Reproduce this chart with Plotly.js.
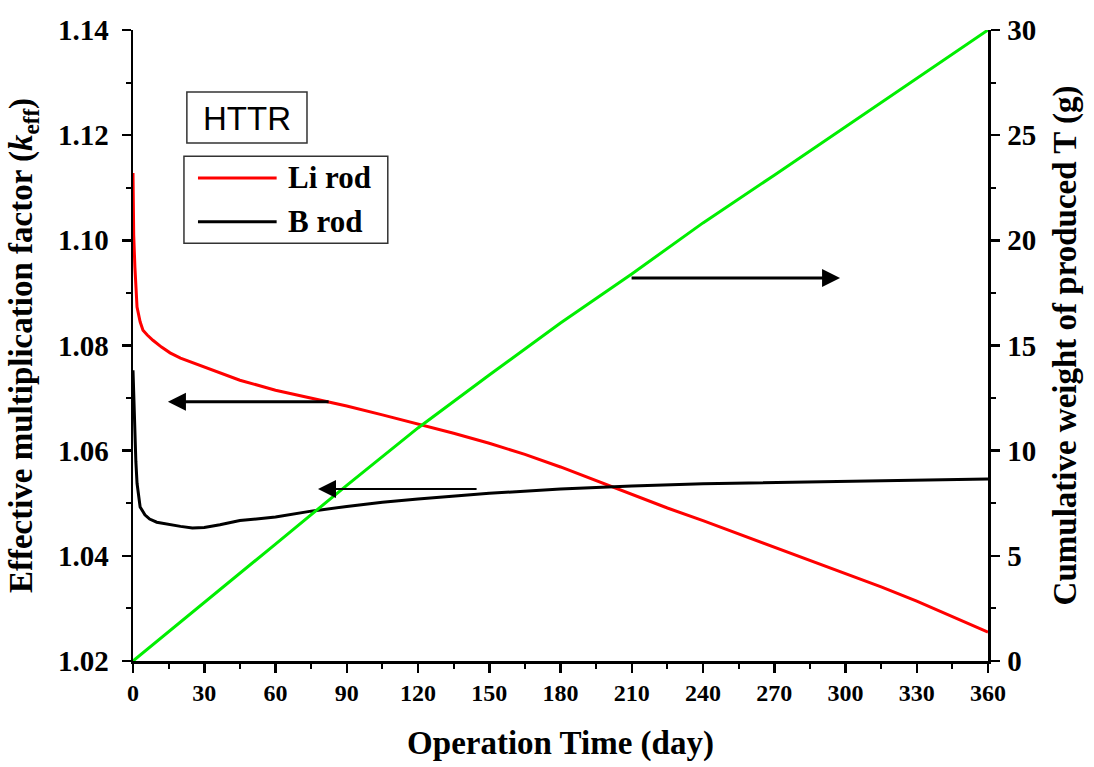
<!DOCTYPE html>
<html>
<head>
<meta charset="utf-8">
<script src="https://cdn.plot.ly/plotly-3.0.1.min.js"></script>
<style>
  html, body { margin: 0; padding: 0; background: #fff; }
  #chart { width: 1094px; height: 767px; }
</style>
</head>
<body>
<div id="chart"></div>
<script>
// Operation time (day) and k_eff for the Li rod case
const liDays = [0, 0.3, 0.8, 1.7, 3, 4.2, 6, 8.4, 12, 15.6, 20, 25.3, 30, 36.6, 45, 60, 75, 82, 90, 105, 120, 135, 150, 165, 180, 195, 210, 225, 240, 255, 270, 285, 300, 315, 330, 345, 360];
const liKeff = [1.1128, 1.1010, 1.0949, 1.0873, 1.0845, 1.0829, 1.0820, 1.0810, 1.0797, 1.0786, 1.0776, 1.0767, 1.0759, 1.0748, 1.0734, 1.0715, 1.0700, 1.0693, 1.0685, 1.0668, 1.0651, 1.0633, 1.0614, 1.0593, 1.0569, 1.0543, 1.0516, 1.0491, 1.0467, 1.0442, 1.0417, 1.0391, 1.0366, 1.0341, 1.0314, 1.0285, 1.0255];

// Operation time (day) and k_eff for the B rod case
const bDays = [0, 0.3, 0.8, 1.2, 1.7, 3, 5, 7, 10, 15.6, 20, 25, 30, 36.6, 45, 60, 75, 90, 105, 120, 150, 180, 210, 240, 270, 300, 330, 360];
const bKeff = [1.0753, 1.0700, 1.0653, 1.0580, 1.0538, 1.0493, 1.0478, 1.0470, 1.0464, 1.0459, 1.0456, 1.0453, 1.0454, 1.0459, 1.0467, 1.0474, 1.0485, 1.0494, 1.0502, 1.0508, 1.0519, 1.0527, 1.0533, 1.0537, 1.0539, 1.0542, 1.0544, 1.0546];

// Cumulative weight of produced tritium (g)
const tDays = [0, 30, 60, 90, 120, 150, 180, 210, 240, 270, 300, 330, 360];
const tWeight = [0, 2.8, 5.56, 8.35, 11.08, 13.6, 16.07, 18.4, 20.83, 23.1, 25.39, 27.7, 30];

// Tick labels
const xTicks = [0, 30, 60, 90, 120, 150, 180, 210, 240, 270, 300, 330, 360];
const yTicks = [1.02, 1.04, 1.06, 1.08, 1.10, 1.12, 1.14];
const y2Ticks = [0, 5, 10, 15, 20, 25, 30];

const serif = 'Liberation Serif, Times New Roman, serif';
const lineW = 3;

const traces = [
  { x: liDays, y: liKeff, name: 'Li rod', type: 'scatter', mode: 'lines',
    line: { color: '#ff0000', width: lineW }, showlegend: false },
  { x: bDays, y: bKeff, name: 'B rod', type: 'scatter', mode: 'lines',
    line: { color: '#000000', width: lineW }, showlegend: false },
  { x: tDays, y: tWeight, name: 'T', type: 'scatter', mode: 'lines', yaxis: 'y2',
    line: { color: '#00ee00', width: lineW }, showlegend: false }
];

const axisCommon = {
  showline: true, linecolor: '#000', linewidth: 2.5,
  ticks: 'outside', ticklen: 9, tickwidth: 2.5, tickcolor: '#000',
  showgrid: false, zeroline: false, fixedrange: true,
  tickfont: { family: serif, size: 29, weight: 'bold', color: '#000' },
  minor: { ticks: 'outside', ticklen: 5, tickwidth: 2, tickcolor: '#000', showgrid: false }
};
const titleFont = { family: serif, size: 33, weight: 'bold', color: '#000' };

// Arrow from the Li rod curve pointing to the k_eff axis
const liArrowY = 1.0693;
// Arrow from the B rod curve pointing to the k_eff axis
const bArrowY = 1.0527;
// Arrow from the tritium curve pointing to the right axis
const tArrowY = 18.21;

const layout = {
  width: 1094, height: 767,
  margin: { l: 133, r: 106, t: 30, b: 106, pad: 0 },
  paper_bgcolor: '#fff', plot_bgcolor: '#fff',
  showlegend: false,
  xaxis: Object.assign({}, axisCommon, {
    range: [0, 360], tickvals: xTicks, ticktext: xTicks.map(String),
    tickfont: { family: serif, size: 24, weight: 'bold', color: '#000' },
    minor: Object.assign({}, axisCommon.minor, { dtick: 15, tick0: 0 }),
    title: { text: 'Operation Time (day)', standoff: 26, font: titleFont }
  }),
  yaxis: Object.assign({}, axisCommon, {
    range: [1.02, 1.14], tickvals: yTicks, ticktext: yTicks.map(v => v.toFixed(2)),
    minor: Object.assign({}, axisCommon.minor, { dtick: 0.01, tick0: 1.02 }),
    ticklabelstandoff: 7,
    title: { text: 'Effective multiplication factor (<i>k</i><sub>eff</sub>)', standoff: 16, font: titleFont }
  }),
  yaxis2: Object.assign({}, axisCommon, {
    overlaying: 'y', side: 'right', anchor: 'x',
    range: [0, 30], tickvals: y2Ticks, ticktext: y2Ticks.map(String),
    minor: Object.assign({}, axisCommon.minor, { dtick: 2.5, tick0: 0 }),
    ticklabelstandoff: 2,
    title: { text: 'Cumulative weight of produced T (g)', standoff: 18, font: titleFont }
  }),
  shapes: [
    // HTTR label box
    { type: 'rect', xref: 'paper', yref: 'paper', x0: 0.063, x1: 0.2035, y0: 0.821, y1: 0.9017,
      line: { color: '#333', width: 1.5 }, fillcolor: 'rgba(0,0,0,0)' },
    // legend box
    { type: 'rect', xref: 'paper', yref: 'paper', x0: 0.0596, x1: 0.298, y0: 0.662, y1: 0.800,
      line: { color: '#333', width: 1.5 }, fillcolor: 'rgba(0,0,0,0)' },
    // legend samples
    { type: 'line', xref: 'paper', yref: 'paper', x0: 0.076, x1: 0.168, y0: 0.7655, y1: 0.7655,
      line: { color: '#ff0000', width: lineW } },
    { type: 'line', xref: 'paper', yref: 'paper', x0: 0.076, x1: 0.168, y0: 0.696, y1: 0.696,
      line: { color: '#000000', width: lineW } }
  ],
  annotations: [
    { xref: 'paper', yref: 'paper', x: 0.1333, y: 0.8605, text: 'HTTR', showarrow: false,
      xanchor: 'center', yanchor: 'middle',
      font: { family: 'Liberation Sans, Arial, sans-serif', size: 33, color: '#000' } },
    { xref: 'paper', yref: 'paper', x: 0.179, y: 0.7655, text: 'Li rod', showarrow: false,
      xanchor: 'left', yanchor: 'middle',
      font: { family: serif, size: 31, weight: 'bold', color: '#000' } },
    { xref: 'paper', yref: 'paper', x: 0.179, y: 0.696, text: 'B rod', showarrow: false,
      xanchor: 'left', yanchor: 'middle',
      font: { family: serif, size: 31, weight: 'bold', color: '#000' } },
    { xref: 'x', yref: 'y', x: 14.7, y: liArrowY, axref: 'x', ayref: 'y', ax: 83, ay: liArrowY,
      text: '', showarrow: true, arrowhead: 2, arrowsize: 1.2, arrowwidth: 3, arrowcolor: '#000', standoff: 0 },
    { xref: 'x', yref: 'y', x: 77.9, y: bArrowY, axref: 'x', ayref: 'y', ax: 145.3, ay: bArrowY,
      text: '', showarrow: true, arrowhead: 2, arrowsize: 1.8, arrowwidth: 2, arrowcolor: '#000', standoff: 0 },
    { xref: 'x', yref: 'y2', x: 297.7, y: tArrowY, axref: 'x', ayref: 'y2', ax: 209.3, ay: tArrowY,
      text: '', showarrow: true, arrowhead: 2, arrowsize: 1.2, arrowwidth: 3, arrowcolor: '#000', standoff: 0 }
  ]
};

Plotly.newPlot('chart', traces, layout, { displayModeBar: false, staticPlot: true });
</script>
</body>
</html>
